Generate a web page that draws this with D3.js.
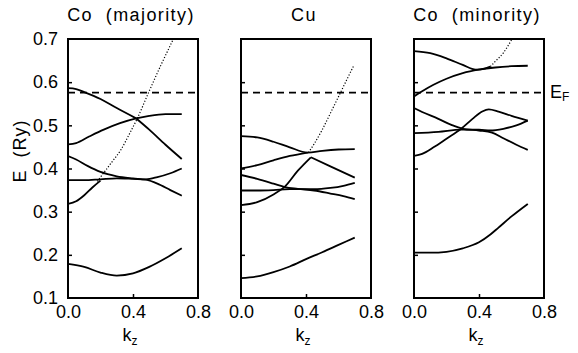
<!DOCTYPE html>
<html>
<head>
<meta charset="utf-8">
<script src="https://cdn.jsdelivr.net/npm/d3@7"></script>
<style>
  html, body { margin: 0; padding: 0; background: #fff; }
  svg { display: block; }
  text { font-family: "Liberation Sans", Arial, Helvetica, sans-serif; fill: #000; }
</style>
</head>
<body>
<div id="chart"></div>
<script>
// ---------------- data ----------------
const panelTitles = ["Co  (majority)", "Cu", "Co  (minority)"];
const kTicks = [0.0, 0.4, 0.8];
const kTickLabels = ["0.0", "0.4", "0.8"];
const eTicks = [0.1, 0.2, 0.3, 0.4, 0.5, 0.6, 0.7];
const eTickLabels = ["0.1", "0.2", "0.3", "0.4", "0.5", "0.6", "0.7"];
const eInnerTicks = [0.2, 0.3, 0.4, 0.5, 0.6];
const kInnerTicks = [0.4];
const fermiEnergy = 0.576;

// Co majority bands: [kz, E(Ry)]
const coMajBandA = [[0,0.586],[0.05,0.584],[0.1,0.577],[0.2,0.561],[0.3,0.54],[0.42,0.516]];
const coMajBandA2 = [[0.42,0.516],[0.5,0.49],[0.6,0.455],[0.7,0.422]];
const coMajBandB = [[0,0.456],[0.05,0.459],[0.13,0.474],[0.22,0.49],[0.32,0.505],[0.42,0.516],[0.5,0.522],[0.6,0.526],[0.7,0.526]];
const coMajBandC = [[0,0.429],[0.05,0.421],[0.12,0.406],[0.2,0.392],[0.3,0.382],[0.4,0.377],[0.48,0.374],[0.55,0.365],[0.63,0.35],[0.7,0.337]];
const coMajBandD = [[0,0.373],[0.1,0.373],[0.2,0.375],[0.3,0.377],[0.4,0.376],[0.48,0.375],[0.55,0.38],[0.63,0.389],[0.7,0.4]];
const coMajBandE = [[0,0.318],[0.05,0.324],[0.1,0.338],[0.15,0.356],[0.2,0.372]];
const coMajBandF = [[0,0.179],[0.1,0.172],[0.2,0.159],[0.3,0.152],[0.4,0.157],[0.5,0.172],[0.6,0.192],[0.7,0.215]];
const coMajDotted = [[0.18,0.37],[0.22,0.39],[0.27,0.415],[0.325,0.443],[0.375,0.478],[0.425,0.515],[0.496,0.576],[0.57,0.638],[0.648,0.7],[0.67,0.718]];

// Cu bands
const cuBandA = [[0,0.475],[0.1,0.472],[0.2,0.462],[0.3,0.449],[0.41,0.437],[0.5,0.441],[0.6,0.444],[0.7,0.445]];
const cuBandB = [[0,0.4],[0.1,0.408],[0.2,0.419],[0.3,0.429],[0.41,0.437]];
const cuBandC = [[0,0.385],[0.1,0.376],[0.2,0.365],[0.27,0.357],[0.35,0.353],[0.45,0.349],[0.55,0.342],[0.63,0.336],[0.7,0.329]];
const cuBandD = [[0,0.349],[0.1,0.349],[0.2,0.35],[0.3,0.352],[0.45,0.352],[0.55,0.355],[0.63,0.36],[0.7,0.367]];
const cuBandG = [[0,0.315],[0.1,0.322],[0.2,0.34],[0.27,0.358],[0.35,0.395],[0.43,0.426]];
const cuBandG2 = [[0.43,0.426],[0.55,0.405],[0.7,0.379]];
const cuBandF = [[0,0.146],[0.1,0.15],[0.2,0.16],[0.3,0.173],[0.4,0.19],[0.5,0.206],[0.6,0.223],[0.7,0.24]];
const cuDotted = [[0.415,0.437],[0.45,0.457],[0.5,0.49],[0.55,0.528],[0.6125,0.576],[0.65,0.605],[0.696,0.64]];

// Co minority bands
const coMinBandA = [[0,0.672],[0.1,0.667],[0.2,0.655],[0.3,0.64],[0.38,0.629],[0.44,0.632],[0.47,0.636]];
const coMinBandB = [[0,0.567],[0.05,0.579],[0.12,0.594],[0.2,0.608],[0.3,0.621],[0.4,0.629],[0.5,0.634],[0.6,0.637],[0.7,0.638]];
const coMinBandC1 = [[0,0.54],[0.05,0.531],[0.15,0.515],[0.23,0.501],[0.3,0.492],[0.4,0.488],[0.48,0.483],[0.55,0.47],[0.63,0.455],[0.7,0.443]];
const coMinBandC2 = [[0,0.482],[0.15,0.485],[0.29,0.49],[0.4,0.49],[0.47,0.488],[0.55,0.492],[0.63,0.5],[0.7,0.511]];
const coMinBandC3 = [[0,0.429],[0.05,0.434],[0.12,0.449],[0.2,0.469],[0.29,0.492],[0.36,0.515],[0.42,0.532],[0.46,0.537],[0.52,0.532],[0.6,0.522],[0.7,0.511]];
const coMinBandF = [[0,0.205],[0.1,0.205],[0.2,0.207],[0.3,0.215],[0.4,0.229],[0.47,0.247],[0.52,0.263],[0.6,0.289],[0.7,0.318]];
const coMinDotted = [[0.47,0.636],[0.5,0.648],[0.55,0.668],[0.6,0.698],[0.62,0.712]];

const panelSolid = [
  [coMajBandA, coMajBandA2, coMajBandB, coMajBandC, coMajBandD, coMajBandE, coMajBandF],
  [cuBandA, cuBandB, cuBandC, cuBandD, cuBandG, cuBandG2, cuBandF],
  [coMinBandA, coMinBandB, coMinBandC1, coMinBandC2, coMinBandC3, coMinBandF]
];
const panelDotted = [coMajDotted, cuDotted, coMinDotted];

// ---------------- layout ----------------
const W = 578, H = 353;
const panelX = [68, 241, 414];
const panelW = 130;
const plotTop = 39, plotBottom = 298;

const svg = d3.select("#chart").append("svg")
  .attr("width", W).attr("height", H);

const y = d3.scaleLinear().domain([0.1, 0.7]).range([plotBottom, plotTop]);
const line = (xs) => d3.line().x(d => xs(d[0])).y(d => y(d[1])).curve(d3.curveMonotoneX);

panelX.forEach((x0, i) => {
  const x = d3.scaleLinear().domain([0, 0.8]).range([x0, x0 + panelW]);
  const g = svg.append("g");

  const clipId = "clip" + i;
  svg.append("clipPath").attr("id", clipId)
    .append("rect").attr("x", x0).attr("y", plotTop).attr("width", panelW).attr("height", plotBottom - plotTop);

  // fermi level
  g.append("line")
    .attr("x1", x(0)).attr("x2", x(0.8))
    .attr("y1", y(fermiEnergy)).attr("y2", y(fermiEnergy))
    .attr("stroke", "#000").attr("stroke-width", 1.7)
    .attr("stroke-dasharray", "7,5");

  // bands
  panelSolid[i].forEach(b => {
    g.append("path").attr("d", line(x)(b))
      .attr("fill", "none").attr("stroke", "#000").attr("stroke-width", 1.8)
      .attr("clip-path", `url(#${clipId})`);
  });
  g.append("path").attr("d", line(x)(panelDotted[i]))
    .attr("fill", "none").attr("stroke", "#000").attr("stroke-width", 1.2)
    .attr("stroke-dasharray", "1.2,1.8")
    .attr("clip-path", `url(#${clipId})`);

  // inner ticks
  const leftTicks = d3.axisLeft(y).tickValues(eInnerTicks).tickSize(-4).tickFormat("");
  const ga = g.append("g").attr("transform", `translate(${x0},0)`).call(leftTicks);
  ga.select(".domain").remove();
  ga.selectAll("line").attr("stroke-width", 1.5);

  const botTicks = d3.axisBottom(x).tickValues(kInnerTicks).tickSize(-4).tickFormat("");
  const gb = g.append("g").attr("transform", `translate(0,${plotBottom})`).call(botTicks);
  gb.select(".domain").remove();
  gb.selectAll("line").attr("stroke-width", 1.5);

  // x labels
  const botLabels = d3.axisBottom(x).tickValues(kTicks).tickSize(0).tickPadding(7)
    .tickFormat((d, j) => kTickLabels[j]);
  const gl = g.append("g").attr("transform", `translate(0,${plotBottom})`).call(botLabels);
  gl.select(".domain").remove();
  gl.selectAll("text").attr("font-size", 18).attr("font-family", null);

  // frame
  g.append("rect").attr("x", x0).attr("y", plotTop).attr("width", panelW).attr("height", plotBottom - plotTop)
    .attr("fill", "none").attr("stroke", "#000").attr("stroke-width", 2);

  // title
  g.append("text").attr("x", x0 + panelW / 2 - 2).attr("y", 21)
    .attr("text-anchor", "middle").attr("font-size", 18)
    .style("white-space", "pre").style("letter-spacing", "1.4px")
    .text(panelTitles[i]);

  // k_z label
  const kl = g.append("text").attr("x", x0 + panelW / 2 - 3).attr("y", 341)
    .attr("text-anchor", "middle").attr("font-size", 18);
  kl.append("tspan").text("k");
  kl.append("tspan").attr("font-size", 12).attr("dy", 4).text("z");

  if (i === 0) {
    const leftLabels = d3.axisLeft(y).tickValues(eTicks).tickSize(0).tickPadding(10)
      .tickFormat((d, j) => eTickLabels[j]);
    const gy = g.append("g").attr("transform", `translate(${x0},0)`).call(leftLabels);
    gy.select(".domain").remove();
    gy.selectAll("text").attr("font-size", 18).attr("font-family", null);
  }
});

// y axis title
svg.append("text")
  .attr("transform", "translate(26,151) rotate(-90)")
  .attr("text-anchor", "middle").attr("font-size", 18)
  .style("white-space", "pre").style("letter-spacing", "1px")
  .text("E  (Ry)");

// E_F label
const ef = svg.append("text").attr("x", 550).attr("y", 98).attr("font-size", 18);
ef.append("tspan").text("E");
ef.append("tspan").attr("font-size", 12).attr("dy", 3).text("F");
</script>
</body>
</html>
